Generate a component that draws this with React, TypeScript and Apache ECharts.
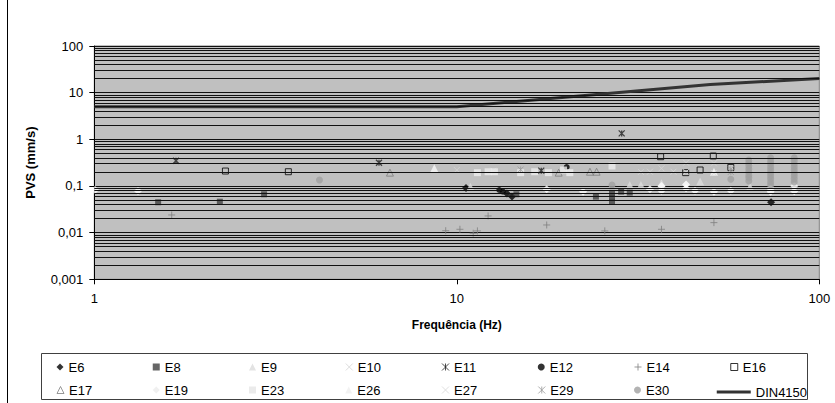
import React, { useEffect, useRef } from "react";
import * as echarts from "echarts";

// ---- data (frequency Hz, PVS mm/s) ----
const E6 = [[10.6, 0.091], [13.75, 0.069], [14.2, 0.0596], [73.6, 0.045]];
const E8 = [[1.5, 0.0448], [2.22, 0.046], [2.94, 0.0664], [14.6, 0.0664], [24.2, 0.059], [26.8, 0.071], [26.8, 0.056], [26.8, 0.046], [28.4, 0.0755], [30.0, 0.072]];
const E9 = [[10.9, 0.0966], [30.0, 0.105], [32.2, 0.105], [36.7, 0.114], [46.9, 0.124], [64.4, 0.0966]];
const E10 = [[10.0, 0.22], [12.6, 0.213], [32.2, 0.2], [36.7, 0.239], [42.9, 0.315], [51.2, 0.306], [57.0, 0.259], [64.4, 0.331], [73.4, 0.36], [85.3, 0.373]];
const E11 = [[1.68, 0.348], [6.1, 0.315], [17.1, 0.213], [28.5, 1.34]];
const E12 = [[13.1, 0.082], [13.4, 0.076], [20.1, 0.255]];
const E14 = [[1.635, 0.0239], [9.32, 0.011], [10.2, 0.0118], [11.1, 0.0097], [11.4, 0.0109], [12.2, 0.0228], [17.7, 0.0146], [25.6, 0.0109], [36.7, 0.0118], [51.2, 0.0164]];
const E16 = [[2.3, 0.209], [3.43, 0.202], [36.5, 0.424], [42.8, 0.193], [46.9, 0.22], [51.0, 0.439], [57.0, 0.25]];
const E17 = [[6.54, 0.193], [19.1, 0.193], [23.3, 0.202], [24.3, 0.202]];
const E19 = [[1.005, 0.082], [1.32, 0.078], [17.7, 0.085], [22.3, 0.0755], [34.1, 0.085], [36.7, 0.079], [36.7, 0.1], [42.9, 0.089], [42.9, 0.108], [45.4, 0.079], [51.2, 0.0755], [57.0, 0.079], [73.4, 0.0755], [73.4, 0.087], [85.3, 0.077], [85.3, 0.1]];
const E23 = [[11.4, 0.193], [12.2, 0.202], [12.7, 0.202], [15.0, 0.193], [16.4, 0.202], [17.9, 0.193], [19.7, 0.22], [20.5, 0.193], [26.8, 0.268]];
const E26 = [[8.67, 0.239], [51.2, 0.202]];
const E27 = [[34.1, 0.202], [39.6, 0.202], [42.9, 0.2], [51.2, 0.19]];
const E29 = [[15.0, 0.2256], [57.0, 0.23], [57.0, 0.2]];
const E30 = [[4.18, 0.134], [26.8, 0.105], [57.0, 0.139],
  [63.9, 0.36], [63.9, 0.31], [63.9, 0.27], [63.9, 0.23], [63.9, 0.2], [63.9, 0.17], [63.9, 0.15], [63.9, 0.128],
  [73.4, 0.4], [73.4, 0.34], [73.4, 0.3], [73.4, 0.255], [73.4, 0.22], [73.4, 0.19], [73.4, 0.165], [73.4, 0.142], [73.4, 0.122], [73.4, 0.105],
  [85.3, 0.4], [85.3, 0.345], [85.3, 0.295], [85.3, 0.255], [85.3, 0.22], [85.3, 0.19], [85.3, 0.165], [85.3, 0.142], [85.3, 0.122]];
const DIN4150 = [[1, 5], [10, 5], [50, 15], [100, 20]];

const yTickLabels = ["0,001", "0,01", "0,1", "1", "10", "100"];
const yDecades = [0.001, 0.01, 0.1, 1, 10];
const minorMultipliers = [2, 3, 4, 5, 6, 7, 8, 9];
const legendRow1 = ["E6", "E8", "E9", "E10", "E11", "E12", "E14", "E16"];
const legendRow2 = ["E17", "E19", "E23", "E26", "E27", "E29", "E30", "DIN4150"];

const X_PATH = "path://M0,0L10,10M10,0L0,10";
const PLUS_PATH = "path://M5,0L5,10M0,5L10,5";
const STAR_PATH = "path://M0,0L10,10M10,0L0,10M5,0L5,10";

const FONT = "'Liberation Sans', Arial, sans-serif";

// faint legend icons for the near-white markers (as they appear on the white legend)
const legendIconColor: Record<string, string> = { E19: "#ececec", E23: "#e6e6e6", E26: "#efefef" };

function scatter(name: string, data: number[][], symbol: string, size: number, itemStyle: any) {
  return { name, type: "scatter", data, symbol, symbolSize: size, itemStyle, z: 3 };
}

export default function App() {
  const ref = useRef<HTMLDivElement>(null);
  useEffect(() => {
    if (!ref.current) return;
    const chart = echarts.init(ref.current, null, { renderer: "svg" });

    const colStart = (i: number) => 43 + 96.25 * i;
    const legends: any[] = [];
    [legendRow1, legendRow2].forEach((row, r) => {
      const rowCenter = r === 0 ? 364 : 387;
      row.forEach((name, i) => {
        const x = colStart(i);
        if (name === "DIN4150") {
          legends.push({
            data: [{ name, icon: "rect", itemStyle: { color: "#333", borderWidth: 0 } }],
            left: x, top: rowCenter - 1.5, itemWidth: 34, itemHeight: 3, itemGap: 0, itemTextGap: 1, padding: 0,
            textStyle: { fontSize: 13, fontFamily: FONT, color: "#000" },
          });
        } else {
          const item: any = { name };
          if (legendIconColor[name]) item.itemStyle = { color: legendIconColor[name] };
          legends.push({
            data: [item],
            left: x + 13.5, top: rowCenter - 3.5, itemWidth: 7, itemHeight: 7, itemGap: 0, itemTextGap: 14, padding: 0,
            itemStyle: { borderWidth: 1 },
            textStyle: { fontSize: 13, fontFamily: FONT, color: "#000" },
          });
        }
      });
    });

    const gridValues: number[] = [];
    yDecades.forEach((d) => minorMultipliers.forEach((m) => gridValues.push(+(m * d).toPrecision(3))));

    chart.setOption({
      animation: false,
      textStyle: { fontFamily: FONT },
      grid: {
        left: 94.3, right: 15.7, top: 46, bottom: 123.7,
        show: true, backgroundColor: "#c0c0c0", borderColor: "#808080", borderWidth: 1,
      },
      xAxis: {
        type: "log", logBase: 10, min: 1, max: 100,
        name: "Frequência (Hz)", nameLocation: "middle", nameGap: 40,
        nameTextStyle: { fontSize: 12, fontWeight: "bold", color: "#000", fontFamily: FONT },
        axisLine: { show: true, lineStyle: { color: "#000", width: 1 } },
        axisTick: { show: true, inside: false, length: 5, lineStyle: { color: "#000" } },
        axisLabel: { fontSize: 13, color: "#000", margin: 13, fontFamily: FONT },
        splitLine: { show: false },
        minorTick: { show: false },
      },
      yAxis: {
        type: "log", logBase: 10, min: 0.001, max: 100,
        name: "PVS (mm/s)", nameLocation: "middle", nameGap: 57,
        nameTextStyle: { fontSize: 13, fontWeight: "bold", color: "#000", fontFamily: FONT },
        axisLine: { show: true, lineStyle: { color: "#000", width: 1 } },
        axisTick: { show: true, inside: false, length: 5, lineStyle: { color: "#000" } },
        axisLabel: {
          fontSize: 13, color: "#000", margin: 11, fontFamily: FONT,
          formatter: (v: number) => yTickLabels[Math.round(Math.log10(v)) + 3] ?? "",
        },
        splitLine: { show: true, lineStyle: { color: "#111", width: 1 } },
        minorTick: { show: false },
        minorSplitLine: { show: false },
      },
      legend: legends,
      graphic: [
        { type: "line", shape: { x1: 7.5, y1: 0, x2: 7.5, y2: 403 }, style: { stroke: "#000", lineWidth: 1 } },
        { type: "rect", shape: { x: 41.5, y: 353.5, width: 766, height: 46 }, style: { fill: "none", stroke: "#404040", lineWidth: 1 }, z: -1 },
      ],
      series: [
        {
          name: "minorGrid", type: "scatter", data: [], z: 1, silent: true,
          markLine: {
            silent: true, symbol: "none", label: { show: false }, animation: false, precision: 10,
            lineStyle: { color: "#111", width: 1, type: "solid" },
            data: gridValues.map((v) => ({ yAxis: v })),
          },
        },
        scatter("E6", E6, "diamond", 8, { color: "#000" }),
        scatter("E8", E8, "rect", 6, { color: "#404040" }),
        scatter("E9", E9, "triangle", 8, { color: "#dcdcdc" }),
        scatter("E10", E10, X_PATH, 6, { color: "rgba(0,0,0,0)", borderColor: "#d4d4d4", borderWidth: 1 }),
        scatter("E11", E11, STAR_PATH, 6, { color: "rgba(0,0,0,0)", borderColor: "#202020", borderWidth: 1.3 }),
        scatter("E12", E12, "circle", 6, { color: "#000" }),
        scatter("E14", E14, PLUS_PATH, 7, { color: "rgba(0,0,0,0)", borderColor: "#808080", borderWidth: 1 }),
        scatter("E16", E16, "rect", 6, { color: "rgba(0,0,0,0)", borderColor: "#000", borderWidth: 1 }),
        scatter("E17", E17, "triangle", 7, { color: "rgba(0,0,0,0)", borderColor: "#808080", borderWidth: 1 }),
        scatter("E19", E19, "diamond", 8, { color: "#ffffff" }),
        scatter("E23", E23, "rect", 7, { color: "#ececec" }),
        scatter("E26", E26, "triangle", 8, { color: "#f6f6f6" }),
        scatter("E27", E27, X_PATH, 6, { color: "rgba(0,0,0,0)", borderColor: "#d8d8d8", borderWidth: 1 }),
        scatter("E29", E29, STAR_PATH, 6, { color: "rgba(0,0,0,0)", borderColor: "#9a9a9a", borderWidth: 1 }),
        scatter("E30", E30, "circle", 7, { color: "#a0a0a0" }),
        {
          name: "DIN4150", type: "line", data: DIN4150, symbol: "none", z: 4,
          lineStyle: { color: "#333", width: 3 }, itemStyle: { color: "#333" },
        },
      ],
    });
    return () => chart.dispose();
  }, []);
  return (
    <div
      ref={ref}
      style={{ position: "fixed", left: 0, top: 0, width: 835, height: 403, background: "#fff" }}
    />
  );
}
